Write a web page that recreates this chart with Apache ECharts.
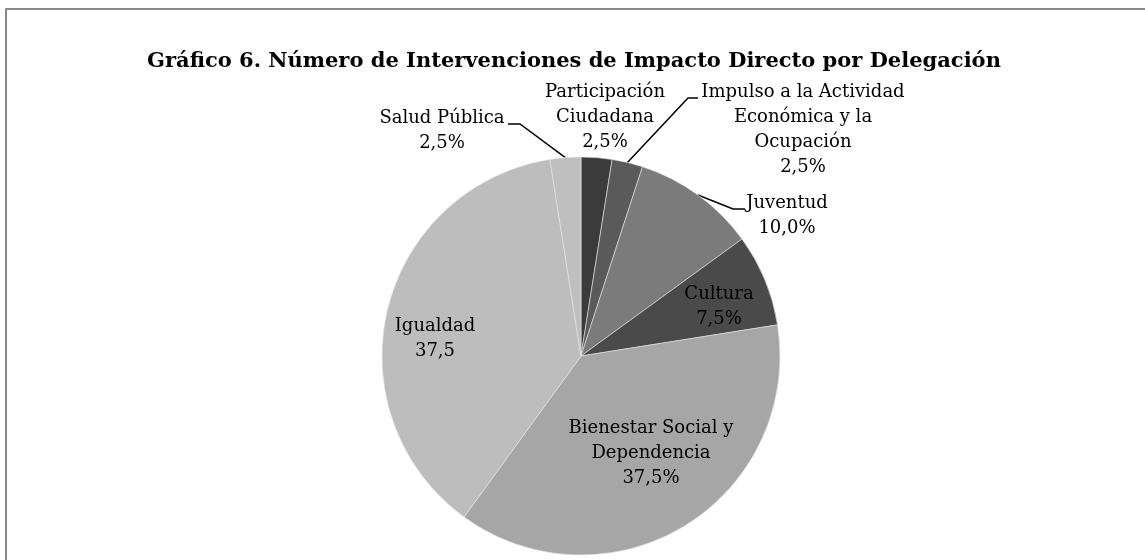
<!DOCTYPE html>
<html>
<head>
<meta charset="utf-8">
<script src="https://cdn.jsdelivr.net/npm/echarts@6/dist/echarts.min.js"></script>
<style>
  html, body { margin: 0; padding: 0; background: #fff; }
  #main { width: 1145px; height: 560px; }
</style>
</head>
<body>
<div id="main"></div>
<script>
// datos (porcentaje de intervenciones por delegación)
var categories = [
  'Participación\nCiudadana',
  'Impulso a la Actividad\nEconómica y la\nOcupación',
  'Juventud',
  'Cultura',
  'Bienestar Social y\nDependencia',
  'Igualdad',
  'Salud Pública'
];
var values = [2.5, 2.5, 10.0, 7.5, 37.5, 37.5, 2.5];
var showPercent = [true, true, true, true, true, false, true];

var colors = ['#3b3b3b', '#5a5a5a', '#7b7b7b', '#4a4a4a', '#a6a6a6', '#bdbdbd', '#bfbfbf'];
// donde Excel dejó cada etiqueta (centro del texto)
var labelPos = [
  [605, 117], [803, 130], [787, 216], [719, 307], [651, 453], [435, 339], [442, 131]
];
// codo y extremo de las líneas guía (null = sin línea)
var guide = [
  null,
  [[688, 98], [698, 98]],
  [[733, 209], [745, 209]],
  null, null, null,
  [[520, 124], [508, 124]]
];
var withLine = [false, true, true, false, false, false, true];

var chartDom = document.getElementById('main');
var myChart = echarts.init(chartDom);

var data = categories.map(function (c, i) {
  return {
    name: c,
    value: values[i],
    itemStyle: { color: colors[i] },
    label: { position: withLine[i] ? 'outside' : 'inside' },
    labelLine: { show: withLine[i] }
  };
});

var option = {
  backgroundColor: '#fff',
  animation: false,
  graphic: [{
    type: 'rect',
    shape: { x: 6, y: 9, width: 1160, height: 580 },
    style: { fill: 'none', stroke: '#898989', lineWidth: 2 },
    silent: true
  }],
  title: {
    text: 'Gráfico 6. Número de Intervenciones de Impacto Directo por Delegación',
    left: 569,
    top: 46,
    textAlign: 'center',
    textStyle: { fontFamily: 'DejaVu Serif', fontSize: 21, fontWeight: 'bold', color: '#000' }
  },
  series: [{
    type: 'pie',
    center: [581, 356],
    radius: 199,
    startAngle: 90,
    clockwise: true,
    data: data,
    itemStyle: { borderColor: '#e6e6e6', borderWidth: 0.6 },
    label: {
      fontFamily: 'DejaVu Serif',
      fontSize: 18,
      lineHeight: 25,
      color: '#000',
      align: 'center',
      formatter: function (p) {
        var v = p.value.toFixed(1).replace('.', ',');
        return p.name + '\n' + v + (showPercent[p.dataIndex] ? '%' : '');
      }
    },
    labelLine: {
      length: 20,
      length2: 12,
      smooth: false,
      lineStyle: { color: '#000', width: 1.5 }
    },
    labelLayout: function (params) {
      var i = params.dataIndex;
      var pos = labelPos[i];
      var out = { x: pos[0], y: pos[1], align: 'center', verticalAlign: 'middle' };
      if (guide[i] && params.labelLinePoints) {
        // el primer punto lo da la propia porción (borde del sector)
        out.labelLinePoints = [params.labelLinePoints[0], guide[i][0], guide[i][1]];
      }
      return out;
    }
  }]
};

myChart.setOption(option);
</script>
</body>
</html>
